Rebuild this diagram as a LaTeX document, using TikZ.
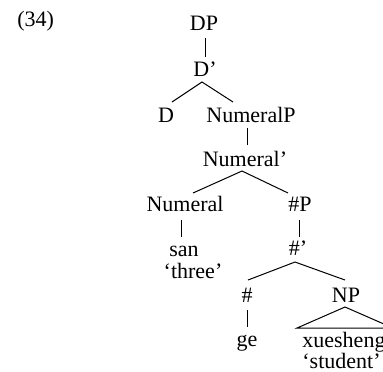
\documentclass[tikz,border=0pt]{standalone}
\usepackage{fontspec}
\setmainfont{Liberation Serif}
\usetikzlibrary{calc}
\begin{document}
\begin{tikzpicture}[x=0.5pt,y=-0.5pt,
  lbl/.style={inner sep=0pt,anchor=base,font=\fontsize{11}{13}\selectfont},
  lblw/.style={inner sep=0pt,anchor=base west,font=\fontsize{11}{13}\selectfont},
  edge/.style={line width=0.5pt}]
\fill[white] (0,0) rectangle (383,371);
\useasboundingbox (0,0) rectangle (383,371);
\node[lblw] (ex) at (17,26) {(34)};
\node[lbl] (DP) at (204,30) {DP};
\node[lbl] (Dbar) at (205,76) {D’};
\node[lbl] (D) at (166,122) {D};
\node[lbl] (NumP) at (251,122) {NumeralP};
\node[lbl] (Numbar) at (245,166) {Numeral’};
\node[lbl] (Num) at (185,211) {Numeral};
\node[lbl] (hP) at (300,211) {\#P};
\node[lbl] (san) at (184,256) {san};
\node[lbl] (three) at (193,278) {‘three’};
\node[lbl] (hbar) at (298,255) {\#’};
\node[lbl] (h) at (247,302) {\#};
\node[lbl] (NP) at (346,302) {NP};
\node[lbl] (ge) at (247,346) {ge};
\node[lblw] (xs) at (302,347) {xuesheng};
\node[lblw] (stu) at (302,368) {‘student’};
\draw[edge] ($(DP.base)+(1,8)$) -- ($(Dbar.base)+(0,-19)$);
\draw[edge] ($(D.base)+(6,-20)$) -- ($(Dbar.base)+(-3,6)$) -- ($(NumP.base)+(-18,-20)$);
\draw[edge] ($(NumP.base)+(-4,6)$) -- ($(Numbar.base)+(2,-21)$);
\draw[edge] ($(Num.base)+(8,-18)$) -- ($(Numbar.base)+(-3,5)$) -- ($(hP.base)+(-12,-18)$);
\draw[edge] ($(Num.base)+(-4,9)$) -- ($(san.base)+(-3,-19)$);
\draw[edge] ($(hP.base)+(-1,9)$) -- ($(hbar.base)+(1,-18)$);
\draw[edge] ($(h.base)+(1,-22)$) -- ($(hbar.base)+(-3,7)$) -- ($(NP.base)+(-1,-22)$);
\draw[edge] ($(h.base)+(0,8)$) -- ($(ge.base)+(0,-19)$);
\draw[edge] ($(NP.base)+(-1,5)$) -- ($(NP.base)+(-49,26)$) -- ($(NP.base)+(47,26)$) -- cycle;
\end{tikzpicture}
\end{document}
